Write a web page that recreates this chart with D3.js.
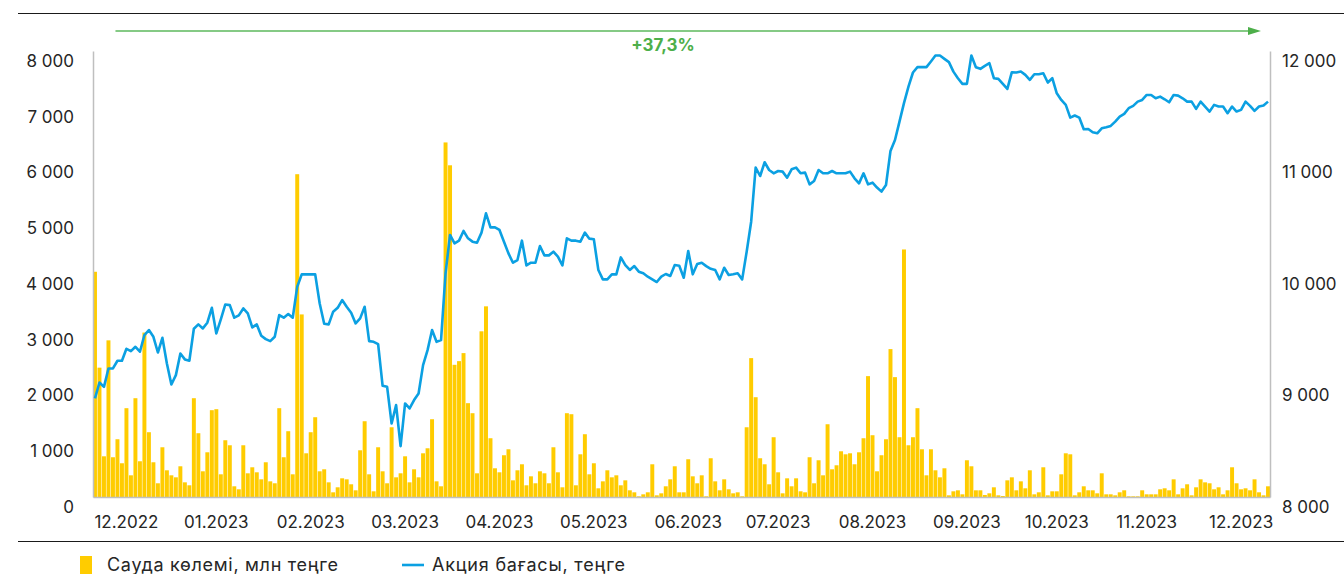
<!DOCTYPE html>
<html>
<head>
<meta charset="utf-8">
<script src="https://cdn.jsdelivr.net/npm/d3@7"></script>
<style>
  body { margin: 0; background: #fff; }
  svg text { font-family: Inter, "Noto Sans", sans-serif; fill: #262626; }
</style>
</head>
<body>
<div id="chart"></div>
<script>
// trading volume, mln tenge (daily)
var volume = [
  4040, 2320, 730, 2810, 713, 1036, 605, 1593, 389, 1772, 641, 2950, 1162, 623, 246, 892, 479, 389, 353, 551,
  263, 210, 1772, 1144, 461, 802, 1557, 1575, 407, 1018, 928, 192, 138, 928, 425, 533, 443, 317, 623, 281,
  246, 1593, 713, 1180, 407, 5790, 3275, 784, 1162, 1431, 461, 497, 263, 84, 174, 335, 317, 228, 120, 838,
  1359, 407, 102, 892, 461, 246, 1251, 353, 425, 730, 263, 497, 353, 784, 874, 1395, 281, 192, 6360, 5950,
  2371, 2437, 2581, 1683, 1503, 425, 2972, 3420, 1054, 515, 443, 749, 856, 299, 479, 587, 210, 371, 246, 461,
  425, 246, 892, 443, 174, 1503, 1485, 210, 766, 1126, 407, 605, 156, 281, 479, 353, 389, 210, 299, 120,
  84, 12, 48, 84, 587, 30, 66, 192, 317, 551, 84, 84, 677, 371, 246, 389, 12, 695, 281, 120,
  317, 138, 66, 84, 12, 1251, 2491, 1790, 695, 587, 228, 1072, 443, 66, 335, 192, 335, 102, 84, 713,
  246, 659, 389, 1305, 497, 569, 820, 766, 784, 587, 802, 1054, 2168, 1108, 461, 749, 1036, 2653, 2150, 1072,
  4440, 928, 1072, 1593, 856, 389, 856, 479, 353, 515, 30, 102, 120, 48, 659, 551, 120, 120, 36, 66,
  174, 30, 18, 299, 353, 120, 281, 156, 479, 48, 84, 533, 30, 102, 102, 407, 784, 766, 30, 84,
  192, 120, 120, 66, 425, 48, 48, 30, 84, 120, 12, 12, 12, 120, 48, 48, 48, 138, 156, 120,
  317, 48, 156, 228, 30, 174, 317, 263, 246, 138, 174, 48, 120, 533, 246, 138, 156, 120, 317, 84,
  30, 192
];

// share price, tenge
var price = [
  8884, 9027, 8988, 9153, 9153, 9222, 9222, 9329, 9308, 9347, 9303, 9452, 9497, 9437, 9296, 9428, 9198, 9009, 9093, 9287,
  9234, 9222, 9509, 9548, 9512, 9563, 9697, 9467, 9593, 9727, 9721, 9608, 9629, 9691, 9647, 9521, 9548, 9446, 9416, 9398,
  9437, 9632, 9608, 9641, 9608, 9886, 9997, 9997, 9997, 9997, 9736, 9554, 9548, 9662, 9697, 9766, 9706, 9653, 9557, 9602,
  9706, 9398, 9392, 9371, 8997, 8988, 8659, 8824, 8456, 8839, 8794, 8869, 8928, 9183, 9317, 9497, 9392, 9407, 10006, 10350,
  10275, 10299, 10386, 10320, 10290, 10281, 10371, 10544, 10418, 10418, 10395, 10290, 10185, 10101, 10125, 10299, 10077, 10101, 10101, 10251,
  10167, 10167, 10200, 10155, 10077, 10320, 10299, 10299, 10290, 10371, 10317, 10311, 10036, 9952, 9952, 9997, 9997, 10149, 10080, 10036,
  10071, 10021, 10006, 9976, 9952, 9928, 9976, 10000, 9982, 10080, 10074, 9967, 10206, 9997, 10089, 10101, 10071, 10047, 10036, 9952,
  10056, 9991, 9997, 10006, 9952, 10200, 10469, 10954, 10879, 11002, 10933, 10903, 10924, 10918, 10864, 10939, 10954, 10903, 10909, 10804,
  10834, 10933, 10903, 10903, 10924, 10903, 10903, 10903, 10918, 10858, 10813, 10903, 10804, 10819, 10775, 10739, 10798, 11104, 11202, 11367,
  11532, 11681, 11807, 11855, 11855, 11855, 11906, 11959, 11959, 11929, 11900, 11815, 11756, 11705, 11705, 11959, 11855, 11840, 11867, 11891,
  11756, 11750, 11705, 11660, 11810, 11807, 11816, 11786, 11741, 11792, 11792, 11801, 11717, 11756, 11621, 11561, 11517, 11403, 11421, 11403,
  11298, 11301, 11271, 11262, 11307, 11316, 11328, 11367, 11412, 11436, 11487, 11508, 11546, 11561, 11606, 11606, 11576, 11591, 11567, 11540,
  11606, 11600, 11576, 11546, 11546, 11481, 11546, 11502, 11457, 11517, 11502, 11502, 11442, 11502, 11457, 11472, 11546, 11508, 11463, 11502,
  11511, 11546
];

var monthLabels = ["12.2022", "01.2023", "02.2023", "03.2023", "04.2023", "05.2023", "06.2023",
                   "07.2023", "08.2023", "09.2023", "10.2023", "11.2023", "12.2023"];
var monthIdx = [7, 27, 48, 69, 90, 111, 132, 152, 173, 194, 214, 234, 255];
var volTicks = [0, 1000, 2000, 3000, 4000, 5000, 6000, 7000, 8000];
var priceTicks = [8000, 9000, 10000, 11000, 12000];
var growthLabel = "+37,3%";
var legendVol = "Сауда көлемі, млн теңге";
var legendPrice = "Акция бағасы, теңге";

var width = 1344, height = 574;
var margin = {top: 51, right: 74, bottom: 77, left: 93};
var plotBottom = height - margin.bottom;
var plotRight = width - margin.right;

var svg = d3.select("#chart").append("svg")
  .attr("width", width)
  .attr("height", height);

var x = d3.scaleBand()
  .domain(d3.range(volume.length))
  .range([margin.left, plotRight])
  .paddingInner(0.12)
  .paddingOuter(0);

var yVol = d3.scaleLinear().domain([0, 8000]).range([plotBottom, margin.top]);
var yPrice = d3.scaleLinear().domain([8000, 12000]).range([plotBottom, margin.top]);

var fmt = function(d) { return d3.format(",")(d).replace(/,/g, " "); };

// frame lines
svg.append("line")
  .attr("x1", 18).attr("x2", width).attr("y1", 13.5).attr("y2", 13.5)
  .attr("stroke", "#1a1a1a").attr("stroke-width", 1.2);
svg.append("line")
  .attr("x1", 18).attr("x2", width).attr("y1", 541.5).attr("y2", 541.5)
  .attr("stroke", "#1a1a1a").attr("stroke-width", 1.2);

// bars
svg.append("g").selectAll("rect")
  .data(volume)
  .enter()
  .append("rect")
    .attr("x", function(d, i) { return x(i); })
    .attr("y", function(d) { return yVol(d); })
    .attr("width", x.bandwidth())
    .attr("height", function(d) { return plotBottom - yVol(d); })
    .style("fill", "#FFCC00");

// axes
var leftAxis = svg.append("g")
  .attr("transform", "translate(" + margin.left + ",0)")
  .call(d3.axisLeft(yVol).tickValues(volTicks).tickFormat(fmt).tickSize(0).tickSizeOuter(0).tickPadding(19));

var rightAxis = svg.append("g")
  .attr("transform", "translate(" + plotRight + ",0)")
  .call(d3.axisRight(yPrice).tickValues(priceTicks).tickFormat(fmt).tickSize(0).tickSizeOuter(0).tickPadding(12));

var bottomAxis = svg.append("g")
  .attr("transform", "translate(0," + plotBottom + ")")
  .call(d3.axisBottom(x).tickValues(monthIdx)
    .tickFormat(function(d, i) { return monthLabels[i]; })
    .tickSize(0).tickSizeOuter(0).tickPadding(19));

[leftAxis, rightAxis, bottomAxis].forEach(function(g) {
  g.select(".domain").attr("stroke", "#BFBFBF").attr("stroke-width", 1.5);
  g.selectAll("text").style("font-size", "17px").style("fill", "#262626");
});
leftAxis.selectAll("text").attr("y", 10);
rightAxis.selectAll("text").attr("y", 10);

// price line
var line = d3.line()
  .x(function(d, i) { return x(i) + x.bandwidth() / 2; })
  .y(function(d) { return yPrice(d); });

svg.append("path")
  .datum(price)
  .attr("d", line)
  .attr("fill", "none")
  .attr("stroke", "#0BA0E2")
  .attr("stroke-width", 2.6)
  .attr("stroke-linejoin", "round");

// growth arrow
var ax0 = x(5), ax1 = x(259) + x.bandwidth();
svg.append("line")
  .attr("x1", ax0).attr("x2", ax1 - 12).attr("y1", 31).attr("y2", 31)
  .attr("stroke", "#5CB85C").attr("stroke-width", 1.6);
svg.append("path")
  .attr("d", "M" + (ax1 - 13) + ",27 L" + ax1 + ",31 L" + (ax1 - 13) + ",35 Z")
  .attr("fill", "#4DAF4A");
svg.append("text")
  .attr("x", 663).attr("y", 51)
  .attr("text-anchor", "middle")
  .style("font-size", "17px").style("font-weight", "700")
  .style("fill", "#4DAF4A")
  .text(growthLabel);

// legend
svg.append("rect")
  .attr("x", 80).attr("y", 556).attr("width", 12).attr("height", 18)
  .style("fill", "#FFCC00");
svg.append("text")
  .attr("x", 107).attr("y", 571)
  .style("font-size", "18px").style("letter-spacing", "0.7px")
  .text(legendVol);
svg.append("line")
  .attr("x1", 402).attr("x2", 424).attr("y1", 565).attr("y2", 565)
  .attr("stroke", "#0BA0E2").attr("stroke-width", 2.6);
svg.append("text")
  .attr("x", 432).attr("y", 571)
  .style("font-size", "18px").style("letter-spacing", "0.8px")
  .text(legendPrice);
</script>
</body>
</html>
